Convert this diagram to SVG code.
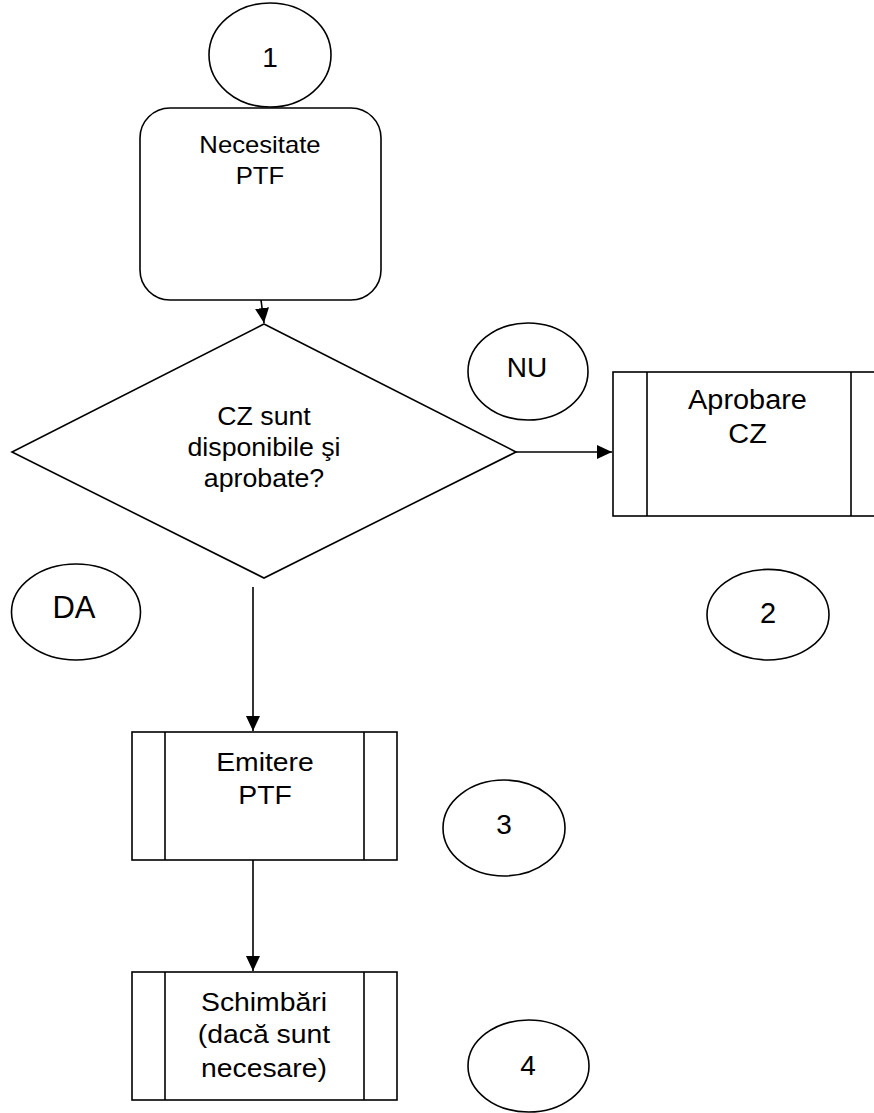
<svg xmlns="http://www.w3.org/2000/svg" width="874" height="1113" viewBox="0 0 874 1113">
<style>
.s{fill:#fff;stroke:#000;stroke-width:1.6}
.l{fill:none;stroke:#000;stroke-width:1.6}
.t{font-family:"Liberation Sans",Arial,sans-serif;fill:#000;text-anchor:middle}
</style>
<defs>
<marker id="ah" markerUnits="userSpaceOnUse" markerWidth="16" markerHeight="15" refX="15" refY="7" orient="auto">
<path d="M0,0 L15,7 L0,14 z" fill="#000"/>
</marker>
</defs>
<rect width="874" height="1113" fill="#fff"/>
<g id="connectors">
<path class="l" d="M261,300 L264,323" marker-end="url(#ah)"/>
<path class="l" d="M516,452 L612,452" marker-end="url(#ah)"/>
<path class="l" d="M253,587 L253,731" marker-end="url(#ah)"/>
<path class="l" d="M253,853 L253,971" marker-end="url(#ah)"/>
</g>
<g id="n1">
<ellipse class="s" cx="270" cy="55" rx="61" ry="52"/>
<text class="t" x="270" y="66.5" font-size="28">1</text>
</g>
<g id="start">
<rect class="s" x="140" y="108" width="241" height="192" rx="30" ry="30"/>
<g transform="matrix(1.07 0 0 1 -18.2 0)">
<text class="t" x="260" y="153" font-size="24">Necesitate</text>
<text class="t" x="260" y="184.5" font-size="24">PTF</text>
</g>
</g>
<g id="decision">
<polygon class="s" points="264,324 516,452 264,578 12,452"/>
<g transform="matrix(1.07 0 0 1 -18.48 0)">
<text class="t" x="264" y="425" font-size="25">CZ sunt</text>
<text class="t" x="264" y="456.5" font-size="25">disponibile şi</text>
<text class="t" x="264" y="487" font-size="25">aprobate?</text>
</g>
</g>
<g id="nu">
<ellipse class="s" cx="528" cy="371.5" rx="60" ry="48.5"/>
<text class="t" x="527" y="376.7" font-size="28">NU</text>
</g>
<g id="aprobare">
<rect class="s" x="613" y="372" width="272" height="144"/>
<line class="l" x1="647" y1="372" x2="647" y2="516"/>
<line class="l" x1="851" y1="372" x2="851" y2="516"/>
<g transform="matrix(1.07 0 0 1 -52.3 0)">
<text class="t" x="747.5" y="409.3" font-size="27">Aprobare</text>
<text class="t" x="747.5" y="443.3" font-size="27">CZ</text>
</g>
</g>
<g id="da">
<ellipse class="s" cx="76" cy="612" rx="64.5" ry="48"/>
<text class="t" x="74" y="618.3" font-size="31">DA</text>
</g>
<g id="n2">
<ellipse class="s" cx="768" cy="614.7" rx="61" ry="45.3"/>
<text class="t" x="768" y="623.3" font-size="29">2</text>
</g>
<g id="emitere">
<rect class="s" x="132" y="732" width="265" height="128"/>
<line class="l" x1="165" y1="732" x2="165" y2="860"/>
<line class="l" x1="364" y1="732" x2="364" y2="860"/>
<g transform="matrix(1.07 0 0 1 -18.55 0)">
<text class="t" x="265" y="770.7" font-size="26.5">Emitere</text>
<text class="t" x="265" y="804" font-size="26.5">PTF</text>
</g>
</g>
<g id="n3">
<ellipse class="s" cx="504" cy="828" rx="61" ry="48"/>
<text class="t" x="504" y="834.3" font-size="28">3</text>
</g>
<g id="schimbari">
<rect class="s" x="132" y="972" width="265" height="128"/>
<line class="l" x1="165" y1="972" x2="165" y2="1100"/>
<line class="l" x1="364" y1="972" x2="364" y2="1100"/>
<g transform="matrix(1.07 0 0 1 -18.48 0)">
<text class="t" x="264" y="1010.7" font-size="26.5">Schimbări</text>
<text class="t" x="264" y="1043.5" font-size="26.5">(dacă sunt</text>
<text class="t" x="264" y="1076.7" font-size="26.5">necesare)</text>
</g>
</g>
<g id="n4">
<ellipse class="s" cx="528.5" cy="1066" rx="60.5" ry="46"/>
<text class="t" x="528" y="1075" font-size="28">4</text>
</g>
</svg>
